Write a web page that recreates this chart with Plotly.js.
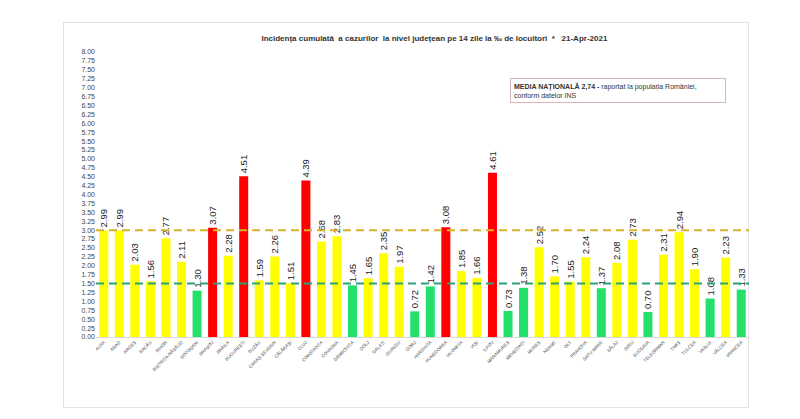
<!DOCTYPE html>
<html>
<head>
<meta charset="utf-8">
<script src="https://cdn.plot.ly/plotly-3.0.1.min.js"></script>
<style>
  html, body { margin: 0; padding: 0; background: #fff; }
  #frame { position: absolute; left: 63px; top: 22px; width: 684px; height: 384px; border: 1px solid #e2e2e2; }
  #chart { position: absolute; left: 0; top: 0; width: 800px; height: 419px; }
</style>
</head>
<body>
<div id="frame"></div>
<div id="chart"></div>
<script>
// judete, in ordinea din grafic
const counties = [
  'ALBA', 'ARAD', 'ARGEȘ', 'BACĂU', 'BIHOR', 'BISTRIȚA-NĂSĂUD', 'BOTOȘANI',
  'BRAȘOV', 'BRĂILA', 'BUCUREȘTI', 'BUZĂU', 'CARAȘ-SEVERIN', 'CĂLĂRAȘI', 'CLUJ',
  'CONSTANȚA', 'COVASNA', 'DÂMBOVIȚA', 'DOLJ', 'GALAȚI', 'GIURGIU', 'GORJ',
  'HARGHITA', 'HUNEDOARA', 'IALOMIȚA', 'IAȘI', 'ILFOV', 'MARAMUREȘ', 'MEHEDINȚI',
  'MUREȘ', 'NEAMȚ', 'OLT', 'PRAHOVA', 'SATU MARE', 'SĂLAJ', 'SIBIU', 'SUCEAVA',
  'TELEORMAN', 'TIMIȘ', 'TULCEA', 'VASLUI', 'VÂLCEA', 'VRANCEA',
];
// incidenta la 14 zile, la mia de locuitori
const incidence = [
  2.99, 2.99, 2.03, 1.56, 2.77, 2.11, 1.30,
  3.07, 2.28, 4.51, 1.59, 2.26, 1.51, 4.39,
  2.68, 2.83, 1.45, 1.65, 2.35, 1.97, 0.72,
  1.42, 3.08, 1.85, 1.66, 4.61, 0.73, 1.38,
  2.52, 1.70, 1.55, 2.24, 1.37, 2.08, 2.73, 0.70,
  2.31, 2.94, 1.90, 1.08, 2.23, 1.33,
];
const upperLimit = 3.0;
const lowerLimit = 1.5;
const yTicks = [];
for (let v = 0; v <= 8; v += 0.25) yTicks.push(v);

const barColor = (v) => {
  if (v > upperLimit) return '#ff0000';
  if (v < lowerLimit) return '#22e06a';
  return '#ffff00';
};

const trace = {
  type: 'bar',
  x: counties,
  y: incidence,
  marker: { color: incidence.map(barColor) },
  texttemplate: '%{y:.2f}',
  textposition: 'outside',
  textangle: -90,
  constraintext: 'none',
  cliponaxis: false,
  textfont: { family: 'Liberation Sans, Arial, sans-serif', size: 9.5, color: '#222' },
  hoverinfo: 'x+y',
};

const limitLine = (y, color) => ({
  type: 'line',
  xref: 'paper', x0: 0, x1: 1,
  yref: 'y', y0: y, y1: y,
  line: { color: color, width: 2, dash: '8px,5px' },
  layer: 'above',
});

const layout = {
  width: 800,
  height: 419,
  margin: { l: 96, r: 51, t: 52, b: 82 },
  paper_bgcolor: 'rgba(0,0,0,0)',
  plot_bgcolor: 'rgba(0,0,0,0)',
  bargap: 0.42,
  showlegend: false,
  font: { family: 'Liberation Sans, Arial, sans-serif', color: '#333' },
  title: {
    text: '<b>Incidența cumulată  a cazurilor  la nivel județean pe 14 zile la ‰ de locuitori  *   21-Apr-2021</b>',
    font: { size: 8, color: '#333' },
    x: 0.543, xanchor: 'center',
    y: 1 - 38 / 419, yanchor: 'middle',
  },
  xaxis: {
    type: 'category',
    tickangle: -45,
    tickfont: { size: 4.5, color: '#444' },
    showgrid: false,
    showline: true,
    linecolor: '#d9d9d9',
    linewidth: 1,
    ticks: '',
    automargin: false,
  },
  yaxis: {
    range: [0, 8],
    tickvals: yTicks,
    tickformat: '.2f',
    tickfont: { size: 7, color: '#444' },
    showgrid: false,
    zeroline: false,
    showline: false,
    ticks: '',
    automargin: false,
  },
  shapes: [
    limitLine(upperLimit, '#d9b12a'),
    limitLine(lowerLimit, '#2aa37a'),
  ],
  annotations: [
    {
      xref: 'paper', yref: 'paper',
      x: (510 - 96) / 653, y: (337 - 78) / 285,
      xanchor: 'left', yanchor: 'top',
      align: 'left',
      showarrow: false,
      text: '<b>MEDIA NAȚIONALĂ 2,74 -</b> raportat la populația României,<br>conform datelor INS',
      font: { size: 7, color: '#333' },
      bordercolor: '#dbb5b5',
      borderwidth: 1,
      borderpad: 3,
      bgcolor: '#fff',
      width: 208,
    },
  ],
};

Plotly.newPlot('chart', [trace], layout, { displayModeBar: false, staticPlot: true });
</script>
</body>
</html>
